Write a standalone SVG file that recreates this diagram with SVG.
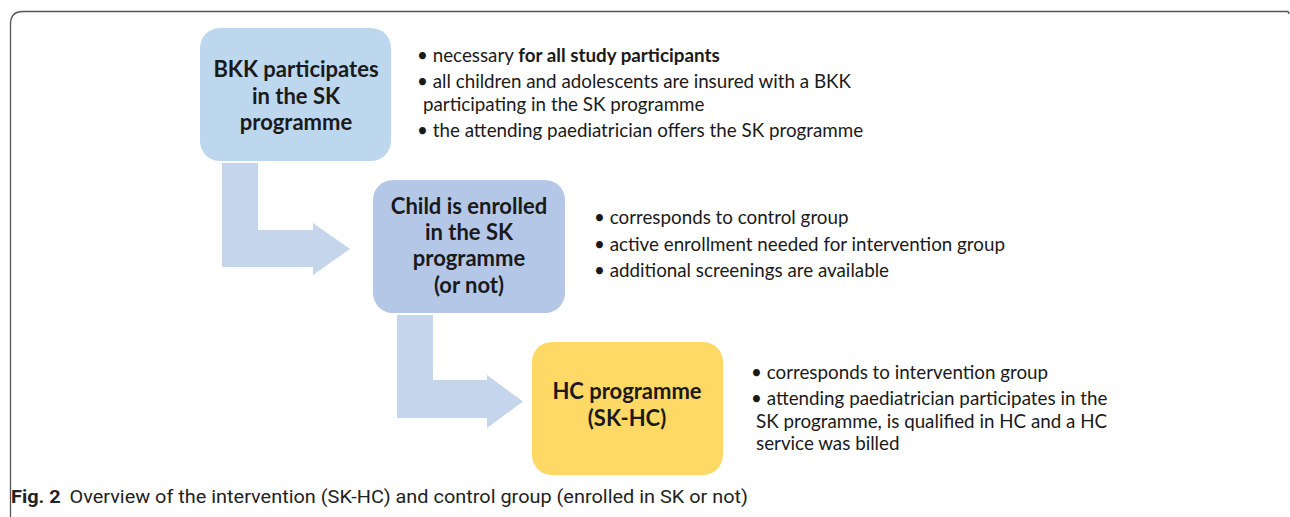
<svg xmlns="http://www.w3.org/2000/svg" width="1290" height="517" viewBox="0 0 1290 517">
<style>
.t{font-family:Lato,"Open Sans",sans-serif;font-size:18.8px;fill:#1a1a1a}
.h{font-family:Lato,"Open Sans",sans-serif;font-size:22px;font-weight:bold;fill:#1a1a1a;text-anchor:middle}
.arr{fill:#c5d5eb}
.cap{font-family:Roboto,"Liberation Sans",sans-serif;font-size:18px;fill:#222}
</style>
<rect width="1290" height="517" fill="#fff"/>
<path d="M10.5,517 V24 Q10.5,11.5 23,11.5 H1287 Q1289,11.5 1289,14" fill="none" stroke="#555" stroke-width="1.3"/>
<g id="connectors">
<path class="arr" d="M222,163 H258 V230 H313 V223 L350,249 L313,275 V267 H222 Z"/>
<path class="arr" d="M397,315 H433 V380 H487 V375 L523,401.5 L487,428 V418 H397 Z"/>
</g>
<g id="node1">
<rect x="200" y="28" width="191" height="133" rx="20" fill="#bdd7ee"/>
<text class="h" x="296" y="77">BKK participates</text>
<text class="h" x="296" y="104">in the SK</text>
<text class="h" x="296" y="130">programme</text>
</g>
<g id="node2">
<rect x="373" y="180" width="192" height="133" rx="20" fill="#b4c7e7"/>
<text class="h" x="469" y="214">Child is enrolled</text>
<text class="h" x="469" y="240">in the SK</text>
<text class="h" x="469" y="266">programme</text>
<text class="h" x="469" y="293">(or not)</text>
</g>
<g id="node3">
<rect x="532" y="342" width="191" height="133" rx="20" fill="#ffd966"/>
<text class="h" x="627" y="399">HC programme</text>
<text class="h" x="627" y="426">(SK-HC)</text>
</g>
<g id="notes1">
<text class="t" x="417" y="62">• necessary <tspan font-weight="bold">for all study participants</tspan></text>
<text class="t" x="417" y="88">• all children and adolescents are insured with a BKK</text>
<text class="t" x="423" y="111">participating in the SK programme</text>
<text class="t" x="417" y="137">• the attending paediatrician offers the SK programme</text>
</g>
<g id="notes2">
<text class="t" x="594" y="224">• corresponds to control group</text>
<text class="t" x="594" y="251">• active enrollment needed for intervention group</text>
<text class="t" x="594" y="277">• additional screenings are available</text>
</g>
<g id="notes3">
<text class="t" x="751" y="379">• corresponds to intervention group</text>
<text class="t" x="751" y="405">• attending paediatrician participates in the</text>
<text class="t" x="756" y="428">SK programme, is qualified in HC and a HC</text>
<text class="t" x="756" y="450">service was billed</text>
</g>
<g id="caption">
<text class="cap" x="11" y="503" textLength="737" lengthAdjust="spacingAndGlyphs"><tspan font-weight="bold">Fig. 2</tspan><tspan dx="8">Overview of the intervention (SK-HC) and control group (enrolled in SK or not)</tspan></text>
</g>
</svg>
